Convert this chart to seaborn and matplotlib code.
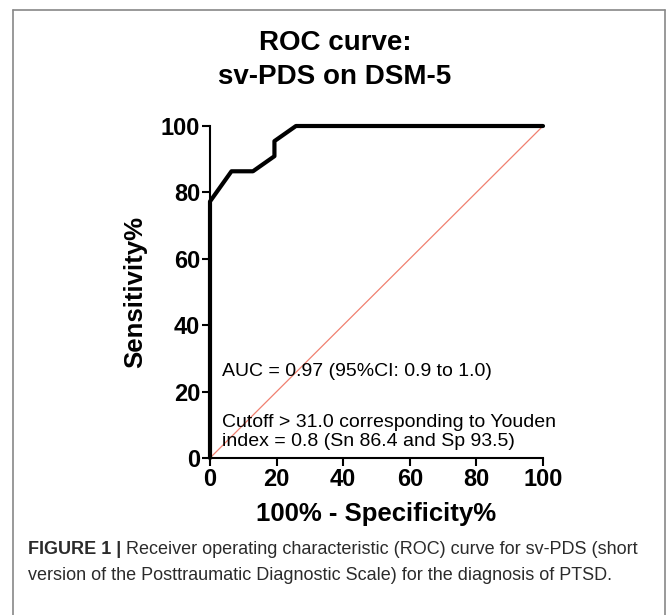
import matplotlib
matplotlib.use("Agg")
import matplotlib.pyplot as plt
import seaborn as sns
import pandas as pd
from matplotlib.lines import Line2D

sns.set_style("white")
plt.rcParams['font.family'] = ['Liberation Sans', 'DejaVu Sans']
plt.rcParams['text.color'] = 'black'
plt.rcParams['axes.labelcolor'] = 'black'
plt.rcParams['xtick.color'] = 'black'
plt.rcParams['ytick.color'] = 'black'

# ROC data (100% - Specificity%, Sensitivity%)
fpr = [0.0, 0.0, 6.45, 12.9, 19.35, 19.35, 25.81, 100.0]
tpr = [0.0, 77.27, 86.36, 86.36, 90.91, 95.45, 100.0, 100.0]
ref_x = [0, 100]
ref_y = [0, 100]
ticks = [0, 20, 40, 60, 80, 100]

title = "ROC curve:\nsv-PDS on DSM-5"
xlabel = "100% - Specificity%"
ylabel = "Sensitivity%"
note1 = "AUC = 0.97 (95%CI: 0.9 to 1.0)"
note2 = "Cutoff > 31.0 corresponding to Youden\nindex = 0.8 (Sn 86.4 and Sp 93.5)"
cap_bold = "FIGURE 1 |"
cap_rest = " Receiver operating characteristic (ROC) curve for sv-PDS (short"
cap_line2 = "version of the Posttraumatic Diagnostic Scale) for the diagnosis of PTSD."

W, H = 670, 615
fig = plt.figure(figsize=(W / 100, H / 100), dpi=100)
ax = fig.add_axes([210 / W, 1 - 458 / H, (543 - 210) / W, (458 - 126) / H])

roc = pd.DataFrame({"x": fpr, "y": tpr})
ref = pd.DataFrame({"x": ref_x, "y": ref_y})
sns.lineplot(data=ref, x="x", y="y", ax=ax, color="#f08070", lw=0.9,
             sort=False, estimator=None)
sns.lineplot(data=roc, x="x", y="y", ax=ax, color="black", lw=3.0,
             sort=False, estimator=None, clip_on=False, zorder=5)

ax.set_xlim(0, 100)
ax.set_ylim(0, 100)
ax.set_xticks(ticks)
ax.set_yticks(ticks)
ax.set_xticklabels([str(t) for t in ticks], fontsize=17, fontweight="bold")
ax.set_yticklabels([str(t) for t in ticks], fontsize=17, fontweight="bold")
ax.tick_params(axis="both", direction="out", length=6, width=1.5,
               color="black", pad=1, bottom=True, left=True)
for s in ["top", "right"]:
    ax.spines[s].set_visible(False)
for s in ["left", "bottom"]:
    ax.spines[s].set_linewidth(1.5)
    ax.spines[s].set_color("black")
ax.set_xlabel(xlabel, fontsize=18.5, fontweight="bold", labelpad=8)
ax.set_ylabel(ylabel, fontsize=18.5, fontweight="bold", labelpad=10)

fig.text(335 / W, 1 - 59.5 / H, title, ha="center", va="center",
         fontsize=20, fontweight="bold", linespacing=1.4)

ax.text(3.6, 26, note1, fontsize=14, va="center", ha="left")
ax.text(3.6, 7.9, note2, fontsize=14, va="center", ha="left",
        linespacing=1.15)

# caption
cap_fs = 13
t1 = fig.text(28 / W, 1 - 550 / H, cap_bold, fontsize=cap_fs, fontweight="bold",
              color="#2b2b2b", va="center", ha="left")
fig.canvas.draw()
bb = t1.get_window_extent()
fig.text(bb.x1 / W, 1 - 550 / H, cap_rest, fontsize=cap_fs, color="#2b2b2b",
         va="center", ha="left")
fig.text(28 / W, 1 - 576 / H, cap_line2, fontsize=cap_fs, color="#2b2b2b",
         va="center", ha="left")

# frame
bc = "#888888"
fig.add_artist(Line2D([13 / W, 13 / W], [0, 1 - 10 / H], color=bc, lw=1.2))
fig.add_artist(Line2D([665 / W, 665 / W], [0, 1 - 10 / H], color=bc, lw=1.2))
fig.add_artist(Line2D([13 / W, 665 / W], [1 - 10 / H, 1 - 10 / H], color=bc, lw=1.2))

fig.savefig("out.png", dpi=100)
